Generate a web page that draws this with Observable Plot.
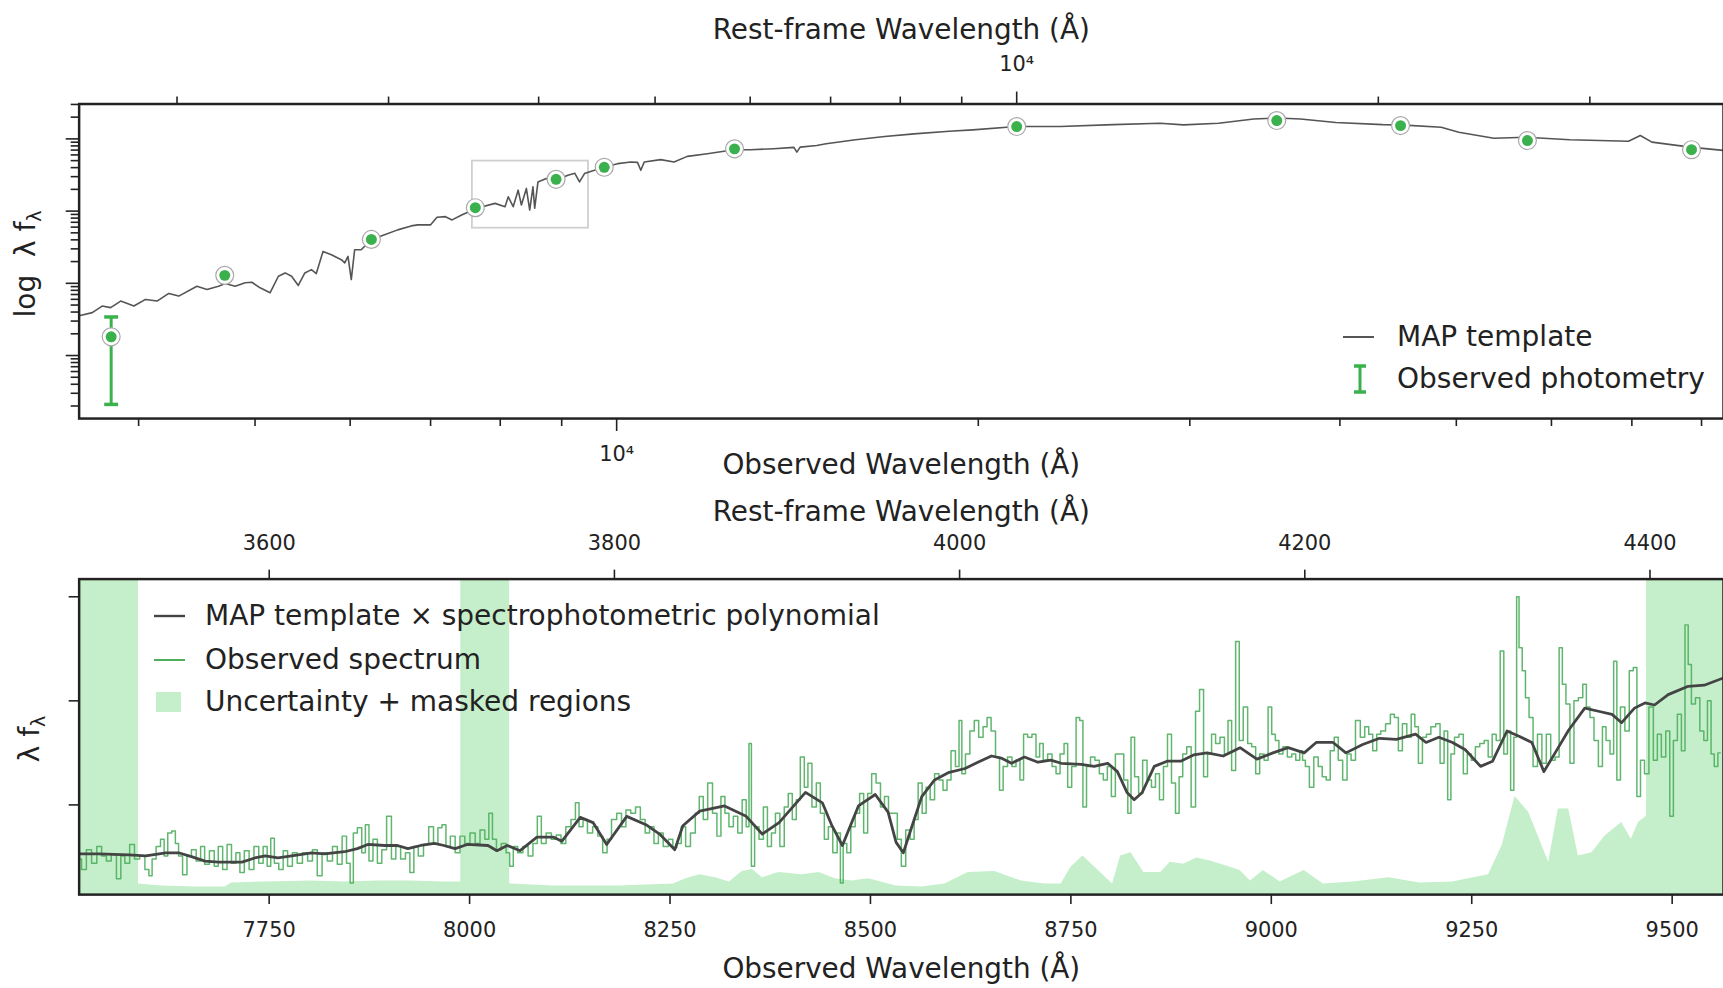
<!DOCTYPE html>
<html>
<head>
<meta charset="utf-8">
<script src="https://cdn.jsdelivr.net/npm/d3@7"></script>
<script src="https://cdn.jsdelivr.net/npm/@observablehq/plot@0.6"></script>
<style>
  html, body { margin: 0; padding: 0; background: #fff; overflow: hidden; }
  #fig { position: relative; width: 1723px; height: 988px; overflow: hidden; font-family: "DejaVu Sans", sans-serif; color: #222; }
  #fig svg { position: absolute; left: 0; }
  .lg { position: absolute; font-size: 28px; line-height: 1; white-space: nowrap; transform: translateY(-50%); }
  .icon { position: absolute; }
  .ylab { position: absolute; font-size: 28px; white-space: nowrap; transform: translate(-50%, -50%) rotate(-90deg); }
  .ylab sub { font-size: 19px; }
</style>
</head>
<body>
<div id="fig"></div>
<script>
// Source redshift linking observed and rest-frame wavelengths
const redshift = 1.1528;

// ---- Broad-band photometry (observed wavelength in Å, log10 λf_λ) ----
const photWave    = [3795, 4718, 6249, 7627, 8904, 9765, 12535, 21528, 35440, 44930, 57300, 78480];
const photLogFlux = [0.259, 1.110, 1.608, 2.047, 2.440, 2.607, 2.862, 3.171, 3.254, 3.184, 2.977, 2.850];
const photLogLo   = [-0.677, 1.09, 1.59, 2.03, 2.42, 2.59, 2.85, 3.16, 3.24, 3.17, 2.96, 2.83];
const photLogHi   = [0.534, 1.13, 1.63, 2.06, 2.46, 2.62, 2.88, 3.18, 3.27, 3.20, 2.99, 2.87];

// ---- MAP template SED: [observed wavelength Å, log10 λf_λ] ----
const templateSED = [
  [3569,0.55],[3660,0.594],[3730,0.685],[3791,0.663],[3865,0.754],[3964,0.685],[4053,0.777],[4144,0.754],
  [4238,0.860],[4320,0.823],[4473,0.960],[4560,0.915],[4662,0.960],[4722,0.997],[4813,0.960],[4906,1.007],
  [4969,1.015],[5049,0.938],[5146,0.869],[5229,1.098],[5297,1.144],[5363,1.098],[5432,0.970],[5501,1.144],
  [5571,1.190],[5623,1.135],[5696,1.442],[5788,1.396],[5899,1.327],[5938,1.282],[5975,1.373],[6013,1.052],
  [6052,1.465],[6128,1.465],[6208,1.557],[6247,1.603],[6409,1.671],[6573,1.740],[6744,1.795],[6830,1.809],
  [6998,1.809],[7087,1.915],[7203,1.923],[7294,1.878],[7430,1.946],[7647,2.039],[7921,2.107],[8074,2.061],
  [8124,2.198],[8201,2.061],[8279,2.290],[8331,2.084],[8411,2.314],[8465,2.015],[8518,2.336],[8546,2.039],
  [8600,2.404],[8737,2.451],[8906,2.428],[9107,2.497],[9230,2.524],[9313,2.404],[9402,2.520],[9583,2.565],
  [9768,2.611],[10019,2.657],[10276,2.679],[10408,2.675],[10474,2.565],[10542,2.679],[10881,2.713],[11163,2.679],
  [11450,2.758],[11898,2.795],[12519,2.850],[12923,2.850],[13510,2.864],[14045,2.882],[14125,2.817],[14215,2.886],
  [14675,2.909],[14941,2.933],[15807,2.988],[16716,3.033],[17681,3.070],[18913,3.106],[19787,3.125],[21521,3.171],
  [23409,3.171],[25900,3.198],[28339,3.216],[29640,3.194],[31700,3.216],[33910,3.276],[35466,3.290],[37095,3.276],
  [39682,3.226],[43420,3.198],[44910,3.194],[48570,3.161],[50234,3.092],[53728,3.010],[57150,3.023],[62150,2.988],
  [69550,2.968],[71140,3.047],[72740,2.955],[78270,2.886],[83440,2.840]
];

// Region of the SED shown in the spectroscopic panel
const zoomWindow = [{x1: 7584, x2: 9474, y1: 58, y2: 493}];

// Axis ticks for the SED panel
const obsMajorTicks  = [10000];
const obsMinorTicks  = [4000, 5000, 6000, 7000, 8000, 9000, 20000, 30000, 40000, 50000, 60000, 70000, 80000];
const restMajorTicks = [10000];
const restMinorTicks = [2000, 3000, 4000, 5000, 6000, 7000, 8000, 9000, 20000, 30000];
const fluxMajorTicks = [1, 10, 100, 1000];
const fluxMinorTicks = [0.2,0.3,0.4,0.5,0.6,0.7,0.8,0.9, 2,3,4,5,6,7,8,9, 20,30,40,50,60,70,80,90,
                        200,300,400,500,600,700,800,900, 2000,3000];

// ---- Spectroscopic panel: [observed wavelength Å, λf_λ] ----
const observedSpectrum = [
  [7513,48],[7519,38],[7525,57],[7532,44],[7538,60],[7544,51],[7550,46],[7556,52],[7563,29],[7567,51],
  [7573,44],[7579,62],[7585,48],[7592,51],[7598,38],[7602,32],[7606,48],[7612,60],[7617,67],[7621,51],
  [7626,73],[7631,75],[7635,63],[7639,51],[7645,33],[7650,51],[7656,57],[7662,46],[7667,60],[7672,43],
  [7679,56],[7684,41],[7689,60],[7695,38],[7700,62],[7706,44],[7711,54],[7716,35],[7722,56],[7728,38],
  [7734,60],[7740,44],[7745,60],[7750,41],[7754,68],[7759,44],[7765,38],[7770,56],[7776,41],[7782,54],
  [7788,44],[7795,54],[7801,46],[7807,57],[7813,32],[7819,54],[7826,46],[7832,60],[7838,43],[7844,70],
  [7849,44],[7853,25],[7857,73],[7863,78],[7868,54],[7872,81],[7877,46],[7882,67],[7888,44],[7893,57],
  [7900,89],[7905,48],[7911,60],[7917,48],[7923,54],[7928,35],[7933,60],[7939,51],[7946,62],[7952,79],
  [7958,63],[7963,78],[7968,81],[7973,60],[7979,70],[7985,54],[7991,70],[7997,63],[8004,73],[8010,63],
  [8016,76],[8022,67],[8026,92],[8031,67],[8036,57],[8043,63],[8048,54],[8052,41],[8057,60],[8063,54],
  [8070,60],[8076,51],[8082,63],[8087,89],[8092,63],[8099,73],[8105,67],[8111,71],[8117,63],[8123,79],
  [8130,86],[8134,102],[8139,79],[8144,86],[8150,73],[8157,79],[8163,70],[8169,54],[8174,67],[8180,86],
  [8187,92],[8192,79],[8198,95],[8204,92],[8210,98],[8216,86],[8222,73],[8227,79],[8233,63],[8238,73],
  [8245,60],[8251,67],[8256,59],[8261,63],[8267,79],[8272,60],[8279,73],[8284,92],[8289,108],[8294,86],
  [8300,121],[8306,92],[8311,70],[8316,108],[8321,92],[8326,79],[8332,89],[8337,73],[8343,105],[8347,79],
  [8350,159],[8353,41],[8358,79],[8364,67],[8369,98],[8374,60],[8379,73],[8384,92],[8390,60],[8395,98],
  [8400,111],[8405,86],[8410,105],[8415,146],[8420,117],[8424,140],[8430,98],[8435,121],[8440,92],[8445,67],
  [8450,79],[8456,54],[8461,73],[8464,25],[8468,63],[8473,54],[8478,79],[8484,92],[8489,111],[8494,73],
  [8499,111],[8504,130],[8510,121],[8515,98],[8520,108],[8525,92],[8531,92],[8536,67],[8541,41],[8547,76],
  [8552,67],[8557,86],[8562,121],[8567,92],[8572,117],[8577,105],[8583,130],[8588,124],[8593,114],[8598,124],
  [8603,152],[8609,137],[8612,181],[8616,130],[8621,149],[8627,171],[8632,181],[8638,165],[8643,175],[8648,184],
  [8653,171],[8659,146],[8663,114],[8668,137],[8674,146],[8679,137],[8684,143],[8689,124],[8693,168],[8699,165],
  [8704,168],[8709,146],[8713,159],[8718,143],[8724,149],[8729,137],[8734,130],[8739,149],[8744,159],[8748,117],
  [8754,137],[8759,184],[8763,181],[8767,98],[8772,137],[8777,146],[8783,143],[8788,130],[8793,124],[8798,137],
  [8803,108],[8808,149],[8813,149],[8819,124],[8823,92],[8827,165],[8832,127],[8837,111],[8842,143],[8848,124],
  [8853,117],[8858,130],[8863,105],[8868,137],[8873,168],[8878,121],[8883,92],[8887,127],[8892,149],[8897,156],
  [8903,98],[8908,190],[8913,211],[8918,127],[8923,149],[8928,168],[8933,159],[8939,165],[8944,149],[8948,181],
  [8953,133],[8958,257],[8962,162],[8968,194],[8973,159],[8978,156],[8983,130],[8988,149],[8994,143],[8998,194],
  [9003,168],[9007,162],[9012,149],[9017,156],[9023,146],[9028,149],[9033,143],[9038,152],[9040,143],[9045,137],
  [9050,117],[9056,146],[9061,137],[9066,127],[9071,124],[9076,152],[9081,165],[9086,143],[9092,124],[9097,149],
  [9102,143],[9108,181],[9114,165],[9119,175],[9124,168],[9129,152],[9134,168],[9139,171],[9146,178],[9151,187],
  [9156,184],[9161,152],[9166,178],[9172,165],[9177,187],[9181,175],[9186,140],[9191,165],[9196,168],[9202,175],
  [9208,178],[9213,140],[9218,171],[9222,105],[9226,149],[9231,165],[9237,168],[9242,130],[9247,149],[9252,143],
  [9257,156],[9263,159],[9268,162],[9273,146],[9278,168],[9283,162],[9288,248],[9292,149],[9297,171],[9300,114],
  [9305,165],[9307,300],[9311,251],[9315,229],[9319,203],[9324,184],[9329,137],[9335,168],[9340,140],[9346,168],
  [9351,143],[9357,146],[9361,251],[9365,216],[9370,197],[9375,140],[9380,200],[9386,203],[9391,216],[9395,194],
  [9400,184],[9405,162],[9411,137],[9415,175],[9420,162],[9425,149],[9429,238],[9433,124],[9438,194],[9444,171],
  [9449,229],[9454,232],[9458,108],[9463,143],[9468,130],[9474,194],[9479,143],[9484,168],[9489,146],[9495,171],
  [9499,89],[9504,162],[9509,187],[9514,152],[9518,273],[9522,235],[9526,197],[9532,203],[9537,171],[9542,162],
  [9546,200],[9551,149],[9554,137],[9560,150]
];

// MAP template × spectrophotometric polynomial
const modelSpectrum = [
  [7513,53],[7538,53],[7575,52],[7596,51],[7621,54],[7637,54],[7654,50],[7670,46],[7687,45],[7716,45],
  [7732,49],[7745,51],[7761,49],[7778,51],[7803,54],[7819,53],[7844,55],[7860,58],[7873,62],[7894,61],
  [7910,61],[7923,58],[7939,61],[7956,63],[7968,61],[7982,58],[7997,62],[8023,61],[8034,56],[8047,61],
  [8063,56],[8084,69],[8105,69],[8115,65],[8138,88],[8154,83],[8171,62],[8196,89],[8220,81],[8237,72],
  [8256,57],[8266,80],[8287,94],[8318,99],[8345,89],[8365,72],[8386,83],[8419,112],[8440,102],[8452,80],
  [8465,61],[8485,99],[8506,110],[8522,93],[8532,64],[8541,54],[8552,80],[8564,108],[8580,124],[8597,131],
  [8618,135],[8634,141],[8651,147],[8663,145],[8676,140],[8692,146],[8709,141],[8725,143],[8738,140],[8763,139],
  [8779,137],[8796,140],[8808,132],[8820,112],[8829,105],[8839,112],[8854,137],[8870,142],[8887,142],[8903,148],
  [8920,150],[8940,147],[8961,155],[8982,144],[9002,150],[9021,155],[9041,150],[9056,160],[9077,160],[9093,150],
  [9114,158],[9135,164],[9156,163],[9180,168],[9193,160],[9209,165],[9226,160],[9242,153],[9261,137],[9276,142],
  [9294,171],[9309,166],[9325,160],[9340,132],[9354,150],[9371,172],[9391,193],[9408,190],[9425,187],[9437,179],
  [9453,193],[9466,198],[9478,196],[9495,206],[9520,214],[9540,215],[9564,222]
];

// Flux uncertainty
const uncertainty = [
  [7513,24],[7587,24],[7616,22],[7658,21],[7695,21],[7703,25],[7745,26],[7803,27],[7844,26],[7885,27],
  [7927,27],[7968,26],[7989,26],[8051,24],[8105,22],[8187,22],[8254,24],[8270,29],[8287,33],[8307,30],
  [8324,26],[8340,36],[8353,38],[8365,30],[8386,35],[8415,33],[8436,35],[8456,29],[8477,27],[8498,29],
  [8518,25],[8532,22],[8564,21],[8593,24],[8622,35],[8655,36],[8688,27],[8717,24],[8738,24],[8750,40],
  [8765,51],[8783,38],[8802,24],[8812,51],[8825,54],[8841,35],[8862,35],[8874,45],[8891,43],[8907,49],
  [8924,46],[8945,41],[8961,37],[8974,27],[8990,37],[9011,26],[9041,37],[9065,24],[9102,26],[9147,30],
  [9185,25],[9226,26],[9271,33],[9288,61],[9304,108],[9321,93],[9346,45],[9358,96],[9371,96],[9383,51],
  [9400,54],[9416,70],[9437,83],[9449,67],[9458,83],[9468,89],[9564,95]
];

// Masked wavelength intervals [start, end]
const maskedRegions = [[7513, 7587], [7989, 8050], [9468, 9564]];

// Axis ticks for the spectroscopic panel
const obsTicks  = [7750, 8000, 8250, 8500, 8750, 9000, 9250, 9500];
const restTicks = [3600, 3800, 4000, 4200, 4400];
const specFluxTicks = [100, 200, 300];

// ---- colours ----
const photGreen = "#3bb14d";
const specGreen = "#4fae5e";
const maskGreen = "#c4efca";
const sedGray = "#555555";
const modelGray = "#444444";
const ink = "#222222";

const toObs = r => r * (1 + redshift);
const sup4 = () => "10\u2074";

// Horizontal cap used for the photometric error bars
const capSymbol = {
  draw(context, size) {
    const w = Math.sqrt(size / Math.PI);
    context.moveTo(-w, 0);
    context.lineTo(w, 0);
  }
};

const sedTable = templateSED.map(([wave, logFlux]) => ({wave, flux: 10 ** logFlux}));
const photTable = photWave.map((wave, i) => ({
  wave, flux: 10 ** photLogFlux[i], lo: 10 ** photLogLo[i], hi: 10 ** photLogHi[i]
}));
const specTable = observedSpectrum.map(([wave, flux]) => ({wave, flux}));
const modelTable = modelSpectrum.map(([wave, flux]) => ({wave, flux}));
const uncTable = uncertainty.map(([wave, flux]) => ({wave, flux}));
const maskTable = maskedRegions.map(([start, end]) => ({start, end}));

const plotStyle = {fontFamily: "DejaVu Sans, sans-serif", fontSize: "21px", color: ink, background: "transparent", overflow: "visible"};
const tickStyle = {stroke: ink, strokeWidth: 1.6, label: null, fontSize: 21, fill: ink};
const titleSize = 28;

// ---- Panel 1: SED with photometry ----
const sedPlot = Plot.plot({
  width: 1731, height: 490,
  marginLeft: 79, marginRight: 0, marginTop: 104, marginBottom: 70,
  style: plotStyle,
  x: {type: "log", domain: [3569, 83440]},
  y: {type: "log", domain: [0.134, 3041]},
  marks: [
    Plot.rect(zoomWindow, {x1: "x1", x2: "x2", y1: "y1", y2: "y2", fill: "none", stroke: "#cfcfcf", strokeWidth: 1.8}),
    Plot.line(sedTable, {x: "wave", y: "flux", stroke: sedGray, strokeWidth: 1.6}),
    Plot.ruleX(photTable, {x: "wave", y1: "lo", y2: "hi", stroke: photGreen, strokeWidth: 3}),
    Plot.dot(photTable, {x: "wave", y: "lo", symbol: capSymbol, r: 7, fill: "none", stroke: photGreen, strokeWidth: 3.5}),
    Plot.dot(photTable, {x: "wave", y: "hi", symbol: capSymbol, r: 7, fill: "none", stroke: photGreen, strokeWidth: 3.5}),
    Plot.dot(photTable, {x: "wave", y: "flux", r: 9, fill: "white", stroke: "#a9a9a9", strokeWidth: 1.2}),
    Plot.dot(photTable, {x: "wave", y: "flux", r: 5.5, fill: photGreen}),
    Plot.axisX(obsMinorTicks, {...tickStyle, anchor: "bottom", tickSize: 8, tickFormat: () => ""}),
    Plot.axisX(obsMajorTicks, {...tickStyle, anchor: "bottom", tickSize: 13, tickPadding: 15, tickFormat: sup4}),
    Plot.axisX(restMinorTicks.map(toObs), {...tickStyle, anchor: "top", tickSize: 8, tickFormat: () => ""}),
    Plot.axisX(restMajorTicks.map(toObs), {...tickStyle, anchor: "top", tickSize: 13, tickPadding: 20, tickFormat: sup4}),
    Plot.axisY(fluxMinorTicks, {...tickStyle, anchor: "left", tickSize: 8, tickFormat: () => ""}),
    Plot.axisY(fluxMajorTicks, {...tickStyle, anchor: "left", tickSize: 13, tickFormat: () => ""}),
    Plot.frame({stroke: ink, strokeWidth: 2.5}),
    Plot.text(["Rest-frame Wavelength (Å)"], {text: d => d, frameAnchor: "top", dy: -74, lineAnchor: "middle", fontSize: titleSize, fill: ink}),
    Plot.text(["Observed Wavelength (Å)"], {text: d => d, frameAnchor: "bottom", dy: 47, lineAnchor: "middle", fontSize: titleSize, fill: ink})
  ]
});

// ---- Panel 2: spectrum with model ----
const specPlot = Plot.plot({
  width: 1731, height: 498,
  marginLeft: 79, marginRight: 0, marginTop: 89, marginBottom: 92,
  style: plotStyle,
  x: {domain: [7513, 9564]},
  y: {domain: [13.8, 317]},
  marks: [
    Plot.rect(maskTable, {x1: "start", x2: "end", fill: maskGreen}),
    Plot.areaY(uncTable, {x: "wave", y1: 0, y2: "flux", fill: maskGreen, clip: true}),
    Plot.line(specTable, {x: "wave", y: "flux", curve: "step", stroke: specGreen, strokeWidth: 1.5, strokeOpacity: 0.9, clip: true}),
    Plot.line(modelTable, {x: "wave", y: "flux", stroke: modelGray, strokeWidth: 2.8, clip: true}),
    Plot.axisX(obsTicks, {...tickStyle, anchor: "bottom", tickSize: 10, tickPadding: 18, tickFormat: d => String(d)}),
    Plot.axisX(restTicks.map(toObs), {...tickStyle, anchor: "top", tickSize: 10, tickPadding: 19, tickFormat: d => String(Math.round(d / (1 + redshift)))}),
    Plot.axisY(specFluxTicks, {...tickStyle, anchor: "left", tickSize: 10, tickFormat: () => ""}),
    Plot.frame({stroke: ink, strokeWidth: 2.5}),
    Plot.text(["Rest-frame Wavelength (Å)"], {text: d => d, frameAnchor: "top", dy: -67, lineAnchor: "middle", fontSize: titleSize, fill: ink}),
    Plot.text(["Observed Wavelength (Å)"], {text: d => d, frameAnchor: "bottom", dy: 75, lineAnchor: "middle", fontSize: titleSize, fill: ink})
  ]
});

const fig = document.getElementById("fig");
sedPlot.style.top = "0px";
specPlot.style.top = "490px";
fig.appendChild(sedPlot);
fig.appendChild(specPlot);

// ---- legends and y-axis labels ----
function addHTML(html) { fig.insertAdjacentHTML("beforeend", html); }

addHTML(`<svg class="icon" style="left:1340px;top:330px" width="36" height="14"><line x1="3" y1="7" x2="34" y2="7" stroke="${sedGray}" stroke-width="2"/></svg>`);
addHTML(`<div class="lg" style="left:1397px;top:337px">MAP template</div>`);
addHTML(`<svg class="icon" style="left:1350px;top:362px" width="20" height="34"><line x1="10" y1="4" x2="10" y2="30" stroke="${photGreen}" stroke-width="3"/><line x1="4" y1="4" x2="16" y2="4" stroke="${photGreen}" stroke-width="3.5"/><line x1="4" y1="30" x2="16" y2="30" stroke="${photGreen}" stroke-width="3.5"/></svg>`);
addHTML(`<div class="lg" style="left:1397px;top:379px">Observed photometry</div>`);

addHTML(`<svg class="icon" style="left:151px;top:609px" width="36" height="14"><line x1="3" y1="7" x2="34" y2="7" stroke="${modelGray}" stroke-width="2.4"/></svg>`);
addHTML(`<div class="lg" style="left:205px;top:616px">MAP template × spectrophotometric polynomial</div>`);
addHTML(`<svg class="icon" style="left:151px;top:653px" width="36" height="14"><line x1="3" y1="7" x2="34" y2="7" stroke="${specGreen}" stroke-width="2"/></svg>`);
addHTML(`<div class="lg" style="left:205px;top:660px">Observed spectrum</div>`);
addHTML(`<div class="icon" style="left:156px;top:692px;width:25px;height:20px;background:${maskGreen}"></div>`);
addHTML(`<div class="lg" style="left:205px;top:702px">Uncertainty + masked regions</div>`);

addHTML(`<div class="ylab" style="left:27px;top:264px">log&nbsp; λ f<sub>λ</sub></div>`);
addHTML(`<div class="ylab" style="left:31px;top:739px">λ f<sub>λ</sub></div>`);
</script>
</body>
</html>
